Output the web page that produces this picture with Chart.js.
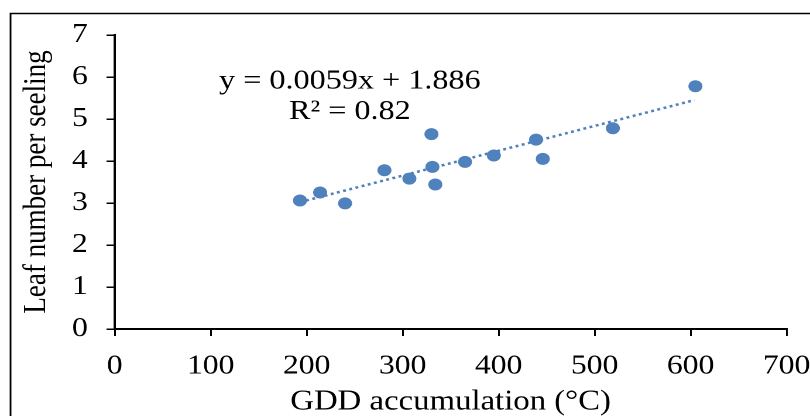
<!DOCTYPE html>
<html>
<head>
<meta charset="utf-8">
<script src="https://cdn.jsdelivr.net/npm/chart.js@4.4.1/dist/chart.umd.min.js"></script>
<style>
  html, body { margin: 0; padding: 0; background: #fff; overflow: hidden; }
  /* the source picture is stretched sideways, so the chart is too */
  #wrap { width: 692px; height: 416px; transform: scaleX(1.1705); transform-origin: 0 0; }
</style>
</head>
<body>
<div id="wrap"><canvas id="chart" width="692" height="416"></canvas></div>
<script>
// GDD accumulation (°C) vs leaf number per seedling
const gdd = [193, 214, 240, 281, 307, 330, 331, 334, 365, 395, 439, 446, 519, 605];
const leaves = [3.06, 3.25, 2.99, 3.78, 3.58, 4.64, 3.86, 3.44, 3.98, 4.13, 4.51, 4.05, 4.78, 5.78];

// trendline ends as drawn
const trendX = [193, 604];
const trendY = [3.02, 5.45];

const equationLines = ["y = 0.0059x + 1.886", "R² = 0.82"];
const equationAt = { x: 245, y: [5.9, 5.17] };

const blue = "#4f81bd";
const serif = "'Liberation Serif', 'Times New Roman', serif";

const frame = {
    id: "frame",
    beforeDraw(chart) {
        const ctx = chart.ctx;
        ctx.save();
        ctx.fillStyle = "#fff";
        ctx.fillRect(0, 0, chart.width, chart.height);
        ctx.strokeStyle = "#000";
        ctx.lineWidth = 1.5;
        ctx.strokeRect(9, 13.5, 1000, 1000);
        ctx.restore();
    },
};

const equation = {
    id: "equation",
    afterDatasetsDraw(chart) {
        const ctx = chart.ctx;
        const xs = chart.scales.x, ys = chart.scales.y;
        ctx.save();
        ctx.fillStyle = "#000";
        ctx.font = "27.5px " + serif;
        ctx.textAlign = "center";
        ctx.textBaseline = "middle";
        equationLines.forEach((t, i) => {
            ctx.fillText(t, xs.getPixelForValue(equationAt.x), ys.getPixelForValue(equationAt.y[i]));
        });
        ctx.restore();
    },
};

new Chart(document.getElementById("chart"), {
    type: "scatter",
    data: {
        datasets: [
            {
                label: "Leaf number",
                data: gdd.map((g, i) => ({ x: g, y: leaves[i] })),
                backgroundColor: blue,
                borderWidth: 0,
                pointRadius: 6,
                pointHoverRadius: 6,
            },
            {
                label: "Linear trend",
                data: trendX.map((g, i) => ({ x: g, y: trendY[i] })),
                showLine: true,
                borderColor: blue,
                borderWidth: 2.5,
                borderDash: [2.5, 3],
                pointRadius: 0,
            },
        ],
    },
    options: {
        responsive: false,
        animation: false,
        devicePixelRatio: 2,
        layout: { padding: { top: 35, right: 0, left: 0, bottom: 0 } },
        plugins: { legend: { display: false }, tooltip: { enabled: false } },
        scales: {
            x: {
                type: "linear",
                min: 0,
                max: 700,
                ticks: { stepSize: 100, color: "#000", padding: 14, font: { family: serif, size: 27 } },
                grid: { drawOnChartArea: false, drawTicks: true, tickLength: 7, color: "#000", lineWidth: 1.5 },
                border: { display: true, color: "#000", width: 2 },
                title: {
                    display: true,
                    text: "GDD accumulation (°C)",
                    color: "#000",
                    font: { family: serif, size: 28, lineHeight: 1 },
                    padding: { top: 0, bottom: 0 },
                },
                afterFit(scale) { scale.height = 87; scale.paddingRight = 20; scale.paddingLeft = 0; },
            },
            y: {
                min: 0,
                max: 7,
                ticks: { stepSize: 1, color: "#000", padding: 16, font: { family: serif, size: 27 } },
                grid: { drawOnChartArea: false, drawTicks: true, tickLength: 7, color: "#000", lineWidth: 1.5 },
                border: { display: true, color: "#000", width: 2 },
                title: {
                    display: true,
                    text: "Leaf number per seeling",
                    color: "#000",
                    font: { family: serif, size: 27, lineHeight: 1.2 },
                    padding: { top: 15, bottom: 0 },
                },
                afterFit(scale) { scale.width = 98; },
            },
        },
    },
    plugins: [frame, equation],
});
</script>
</body>
</html>
